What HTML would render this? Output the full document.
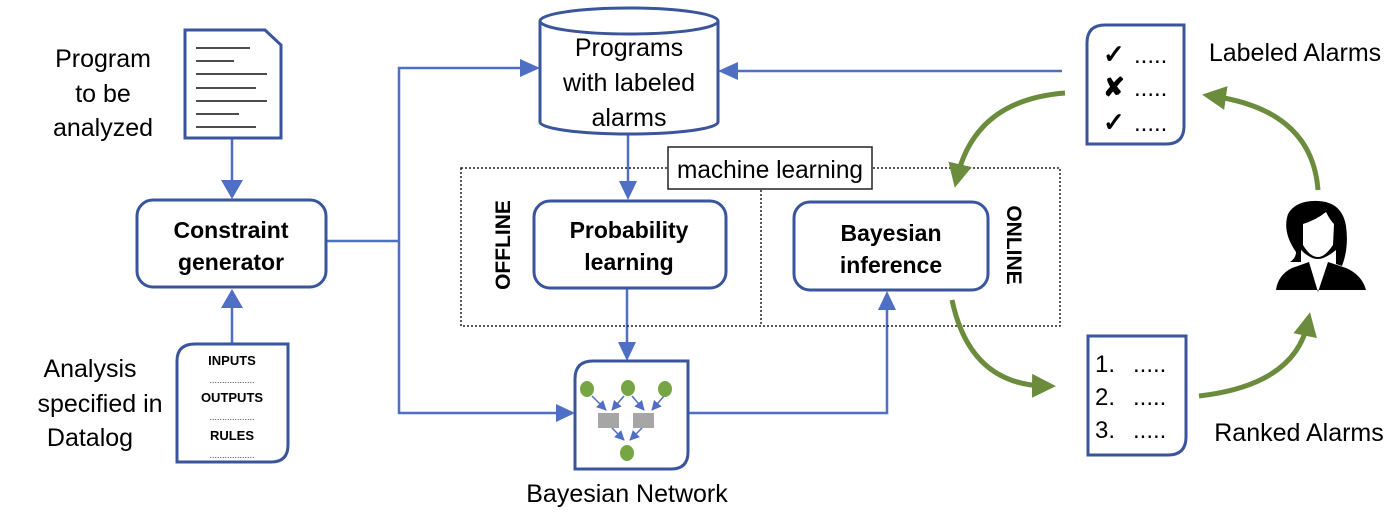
<!DOCTYPE html>
<html><head><style>
body{margin:0;background:#fff}
svg text{font-family:"Liberation Sans",sans-serif}
</style></head><body>
<svg width="1399" height="512" viewBox="0 0 1399 512" xmlns="http://www.w3.org/2000/svg">
<defs>
<marker id="ab" markerWidth="10" markerHeight="10" refX="9" refY="5" orient="auto" markerUnits="userSpaceOnUse" viewBox="0 0 10 10"><path d="M0,0 L10,5 L0,10Z" fill="#4f6fc4"/></marker>
<marker id="ag" markerWidth="24" markerHeight="24" refX="14" refY="12" orient="auto" markerUnits="userSpaceOnUse" viewBox="0 0 24 24"><path d="M0,0 L24,12 L0,24Z" fill="#6b8c3c"/></marker>
</defs>
<g stroke="#4f6fc4" stroke-width="2.5" fill="none">
<line x1="232" y1="138" x2="232" y2="182"/><path d="M221,180 L232,199 L243,180Z" fill="#4f6fc4" stroke="none"/>
<line x1="232" y1="344" x2="232" y2="306"/><path d="M221,308 L232,289 L243,308Z" fill="#4f6fc4" stroke="none"/>
<polyline points="326,241 399,241"/>
<polyline points="522,68 399,68 399,413 557,413"/>
<path d="M520,59 L540,68 L520,77Z" fill="#4f6fc4" stroke="none"/>
<path d="M556,404 L575,413 L556,422Z" fill="#4f6fc4" stroke="none"/>
<line x1="1062" y1="71" x2="738" y2="71"/><path d="M738,62 L718,71 L738,80Z" fill="#4f6fc4" stroke="none"/>
<line x1="628" y1="135" x2="628" y2="183"/><path d="M619,181 L628,200 L637,181Z" fill="#4f6fc4" stroke="none"/>
<line x1="627" y1="288" x2="627" y2="344"/><path d="M618,342 L627,361 L636,342Z" fill="#4f6fc4" stroke="none"/>
<polyline points="688,413 887,413 887,308"/><path d="M878,310 L887,291 L896,310Z" fill="#4f6fc4" stroke="none"/>
</g>
<rect x="461" y="168" width="599" height="158" fill="none" stroke="#222" stroke-width="1.5" stroke-dasharray="2,2"/>
<line x1="761" y1="190" x2="761" y2="326" stroke="#222" stroke-width="1.5" stroke-dasharray="2,2"/>
<rect x="668" y="147" width="204" height="42" fill="#fff" stroke="#222" stroke-width="1.5"/>
<text x="770" y="178" font-size="25" text-anchor="middle" textLength="186" lengthAdjust="spacingAndGlyphs">machine learning</text>
<text transform="translate(510,245) rotate(-90)" font-size="21" font-weight="bold" text-anchor="middle">OFFLINE</text>
<text transform="translate(1007,245) rotate(90)" font-size="21" font-weight="bold" text-anchor="middle">ONLINE</text>
<g stroke="#3a559c" stroke-width="3" fill="#fff">
<path d="M185,30 L265,30 L281,45 L281,138 L185,138Z"/>
<rect x="137" y="200" width="189" height="87" rx="16"/>
<path d="M195,344 L288,344 L288,445 Q288,462 271,462 L177,462 L177,361 Q177,344 195,344Z"/>
<rect x="534" y="201" width="192" height="87" rx="16"/>
<rect x="794" y="202" width="194" height="88" rx="16"/>
<path d="M593,361 L688,361 L688,452 Q688,469 671,469 L575,469 L575,379 Q575,361 593,361Z"/>
<path d="M540,21 L540,122 A89,12 0 0 0 718,122 L718,21"/>
<ellipse cx="629" cy="21" rx="89" ry="13"/>
<path d="M1105,25 L1184,25 L1184,126 Q1184,144 1166,144 L1087,144 L1087,43 Q1087,25 1105,25Z"/>
<path d="M1088,336 L1186,336 L1186,437 Q1186,455 1168,455 L1088,455Z"/>
</g>
<g stroke="#111" stroke-width="1.5">
<line x1="196" y1="48" x2="250" y2="48"/><line x1="196" y1="61" x2="234" y2="61"/><line x1="196" y1="74" x2="267" y2="74"/><line x1="196" y1="88" x2="256" y2="88"/><line x1="196" y1="101" x2="267" y2="101"/><line x1="196" y1="114" x2="239" y2="114"/><line x1="196" y1="127" x2="256" y2="127"/>
</g>
<g font-size="13" font-weight="bold" text-anchor="middle">
<text x="232" y="365">INPUTS</text><text x="232" y="402">OUTPUTS</text><text x="232" y="440">RULES</text></g>
<g font-size="9" text-anchor="middle" fill="#333"><text x="232" y="383">..................</text><text x="232" y="420">..................</text><text x="232" y="458">..................</text></g>
<g font-size="23" font-weight="bold" text-anchor="middle">
<text x="231" y="238">Constraint</text><text x="231" y="270">generator</text>
<text x="629" y="238">Probability</text><text x="629" y="270">learning</text>
<text x="891" y="241">Bayesian</text><text x="891" y="273">inference</text></g>
<g font-size="25" text-anchor="middle">
<text x="629" y="56">Programs</text><text x="629" y="91">with labeled</text><text x="629" y="126">alarms</text>
<text x="103" y="67">Program</text><text x="103" y="102">to be</text><text x="103" y="136">analyzed</text>
<text x="90" y="377">Analysis</text><text x="100" y="412">specified in</text><text x="90" y="446">Datalog</text>
<text x="627" y="502">Bayesian Network</text>
<text x="1295" y="61">Labeled Alarms</text><text x="1299" y="441">Ranked Alarms</text></g>
<g font-size="26" font-weight="bold"><text x="1103" y="63">✓</text><text x="1103" y="96">✘</text><text x="1103" y="131">✓</text></g>
<g font-size="24"><text x="1134" y="63">.....</text><text x="1134" y="96">.....</text><text x="1134" y="131">.....</text>
<text x="1095" y="372">1.</text><text x="1095" y="405">2.</text><text x="1095" y="438">3.</text>
<text x="1133" y="372">.....</text><text x="1133" y="405">.....</text><text x="1133" y="438">.....</text></g>
<g stroke="#4f6fc4" stroke-width="1.5" marker-end="url(#ab)">
<line x1="592" y1="396" x2="606" y2="410"/><line x1="624" y1="396" x2="612" y2="410"/>
<line x1="632" y1="396" x2="644" y2="410"/><line x1="664" y1="396" x2="652" y2="410"/>
<line x1="612" y1="428" x2="624" y2="440"/><line x1="642" y1="428" x2="630" y2="440"/>
</g>
<g fill="#76a544"><ellipse cx="587" cy="389" rx="7" ry="8"/><ellipse cx="628" cy="388" rx="7" ry="8"/><ellipse cx="665" cy="389" rx="7" ry="8"/><ellipse cx="627" cy="453" rx="7" ry="8"/></g>
<g fill="#a6a6a6"><rect x="598" y="413" width="21" height="15"/><rect x="633" y="413" width="21" height="15"/></g>
<g stroke="#6b8c3c" stroke-width="5" fill="none">
<path d="M1065,93 Q975,100 957,178" marker-end="url(#ag)"/>
<path d="M952,300 Q970,385 1046,386" marker-end="url(#ag)"/>
<path d="M1199,396 Q1295,385 1308,322" marker-end="url(#ag)"/>
<path d="M1318,190 Q1312,110 1212,96" marker-end="url(#ag)"/>
</g>
<g fill="#000">
<path d="M1296,252 Q1282,232 1288,214 Q1296,200 1318,201 Q1342,202 1346,226 Q1349,248 1342,266 L1336,264 L1336,250 Q1325,259 1318,259 Q1310,259 1301,250 L1301,262 L1290,262 Q1296,258 1296,252 Z"/>
<path d="M1276,290 Q1278,275 1292,268 L1309,262 L1318,292 L1328,262 L1346,268 Q1362,275 1366,290 Z"/>
</g>
<path d="M1303,224 Q1316,220 1326,212 Q1330,220 1334,224 L1333,245 Q1325,257 1318,257 Q1310,257 1303,245Z" fill="#fff"/>
</svg>
</body></html>
